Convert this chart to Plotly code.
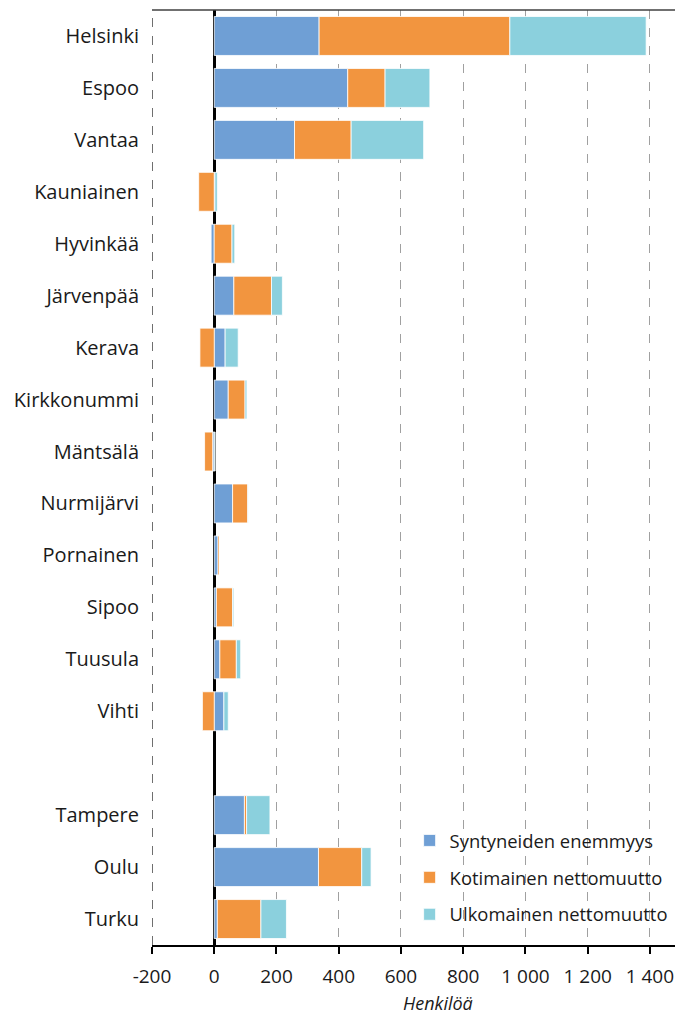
import plotly.graph_objects as go

categories = ["Helsinki", "Espoo", "Vantaa", "Kauniainen", "Hyvinkää", "Järvenpää",
              "Kerava", "Kirkkonummi", "Mäntsälä", "Nurmijärvi", "Pornainen", "Sipoo",
              "Tuusula", "Vihti", " ", "Tampere", "Oulu", "Turku"]
syntyneet = [337, 429, 258, 2, -10, 63, 35, 45, -5, 59, 12, 7, 18, 31, None, 97, 335, 10]
kotimainen = [613, 120, 182, -50, 57, 121, -46, 54, -26, 49, 5, 52, 53, -38, None, 7, 139, 140]
ulkomainen = [438, 144, 233, 8, 9, 35, 42, 6, 3, 1, 0, 4, 14, 14, None, 75, 30, 82]
series_names = ["Syntyneiden enemmyys", "Kotimainen nettomuutto", "Ulkomainen nettomuutto"]
colors = ["#6F9FD5", "#F2953F", "#8BD0DD"]
tick_vals = [-200, 0, 200, 400, 600, 800, 1000, 1200, 1400]
tick_text = ["-200", "0", "200", "400", "600", "800", "1 000", "1 200", "1 400"]

FONT = "Open Sans, Liberation Sans, sans-serif"

fig = go.Figure()
for i, (name, vals, col) in enumerate(zip(series_names, [syntyneet, kotimainen, ulkomainen], colors)):
    fig.add_trace(go.Bar(
        y=categories, x=vals, name=name, orientation="h", legendgroup=f"g{i}",
        marker=dict(color=col, line=dict(color="white", width=0.8)),
    ))

# page body has an 8px margin, so the figure is sized to fit the window
fig.update_layout(
    barmode="relative",
    bargap=0.25,
    width=675, height=1008,
    margin=dict(l=144, r=2, t=2, b=71, autoexpand=False),
    plot_bgcolor="white", paper_bgcolor="white",
    font=dict(family=FONT, size=20, color="#1a1a1a"),
    showlegend=True,
    legend=dict(x=0.487, y=0.1316, xanchor="left", yanchor="top",
                font=dict(size=18.4, color="#1a1a1a"), bgcolor="rgba(0,0,0,0)",
                tracegroupgap=10, traceorder="grouped"),
    xaxis=dict(
        range=[-200, 1500], tickvals=tick_vals, ticktext=tick_text,
        showgrid=True, gridcolor="#A0A0A0", griddash="dash", gridwidth=1,
        zeroline=True, zerolinecolor="black", zerolinewidth=2.5,
        showline=True, linecolor="black", linewidth=2,
        ticks="outside", ticklen=7, tickwidth=2, tickcolor="black",
        tickfont=dict(size=19), ticklabelstandoff=6, automargin=False,
    ),
    yaxis=dict(
        categoryorder="array", categoryarray=categories, autorange="reversed",
        showgrid=False, zeroline=False, showline=False, ticks="",
        tickfont=dict(size=20), ticklabelstandoff=12, automargin=False,
    ),
)
fig.add_annotation(text="<i>Henkilöä</i>", xref="paper", yref="paper",
                   x=0.541, y=-0.062, showarrow=False, font=dict(size=18),
                   xanchor="center", yanchor="middle")
# left dashed border, top and right borders
fig.add_shape(type="line", xref="x", yref="paper", x0=-200, x1=-200, y0=0, y1=1,
              line=dict(color="#404040", width=1.5, dash="dash"))
fig.add_shape(type="line", xref="paper", yref="paper", x0=0, x1=1, y0=1, y1=1,
              line=dict(color="#404040", width=1.5))
fig.add_shape(type="line", xref="paper", yref="paper", x0=1, x1=1, y0=0, y1=1,
              line=dict(color="#404040", width=1.5))

fig.write_html("out.html")
